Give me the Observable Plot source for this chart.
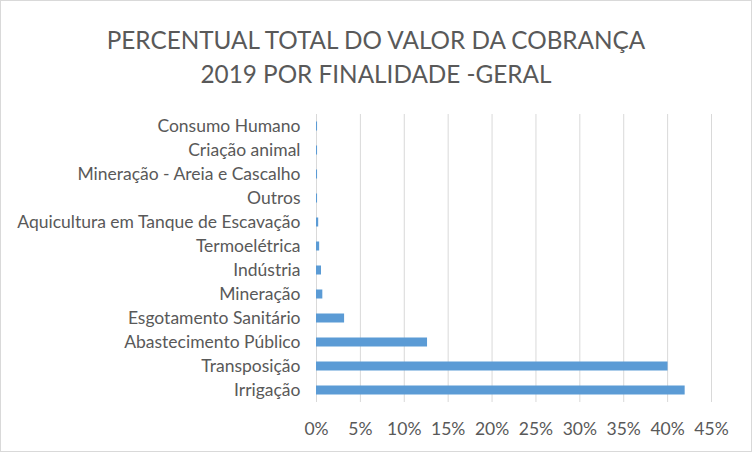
<!DOCTYPE html>
<html>
<head>
<meta charset="utf-8">
<script src="https://cdn.jsdelivr.net/npm/d3@7"></script>
<script src="https://cdn.jsdelivr.net/npm/@observablehq/plot@0.6"></script>
<style>
  html, body { margin: 0; padding: 0; background: #fff; }
  #frame { position: relative; width: 752px; height: 452px; box-sizing: border-box; border: 1px solid #d9d9d9; background: #fff; overflow: hidden; }
  #title { position: absolute; left: 0; top: 22px; width: 100%; text-align: center; font-family: Lato, "Open Sans", sans-serif; font-size: 24.3px; line-height: 34px; color: #595959; }
  #chart { position: absolute; left: 0; top: 99px; }
</style>
</head>
<body>
<div id="frame">
  <div id="title">PERCENTUAL TOTAL DO VALOR DA COBRANÇA<br>2019 POR FINALIDADE -GERAL</div>
  <div id="chart"></div>
</div>
<script>
const categories = ["Irrigação","Transposição","Abastecimento Público","Esgotamento Sanitário","Mineração","Indústria","Termoelétrica","Aquicultura em Tanque de Escavação","Outros","Mineração - Areia e Cascalho","Criação animal","Consumo Humano"];
const values = [42.0, 40.05, 12.65, 3.2, 0.72, 0.57, 0.36, 0.25, 0.12, 0.12, 0.12, 0.12];
const tickValues = [0, 5, 10, 15, 20, 25, 30, 35, 40, 45];

const data = categories.map((c, i) => ({category: c, value: values[i]}));

const chart = Plot.plot({
  width: 750,
  height: 352,
  marginLeft: 315,
  marginRight: 40,
  marginTop: 14,
  marginBottom: 50,
  style: {fontFamily: "Lato, 'Open Sans', sans-serif", fontSize: "17.5px", color: "#595959", background: "#fff"},
  x: {domain: [0, 45], ticks: tickValues, label: null},
  y: {domain: categories.slice().reverse(), padding: 0, label: null},
  marks: [
    Plot.ruleX(tickValues, {stroke: "#d9d9d9", strokeWidth: 1}),
    Plot.barX(data, {x: "value", y: "category", fill: "#5b9bd5", insetTop: 7.5, insetBottom: 7.5}),
    Plot.axisX(tickValues, {tickSize: 0, tickPadding: 20, tickFormat: d => d + "%", fill: "#595959", fontSize: 17.5, label: null}),
    Plot.axisY({tickSize: 0, tickPadding: 16, fill: "#595959", fontSize: 17.5, label: null})
  ]
});
document.getElementById("chart").appendChild(chart);
</script>
</body>
</html>
